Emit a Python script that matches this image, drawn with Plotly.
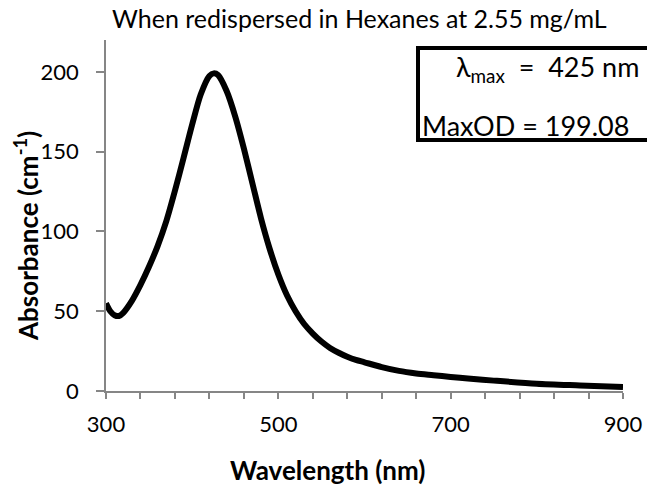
import plotly.graph_objects as go

wavelength_nm = [300, 305, 310, 315, 320, 330, 340, 350, 360, 370, 380, 390, 400, 410, 420, 425,
                 430, 440, 450, 460, 470, 480, 490, 500, 510, 520, 530, 540, 550, 560, 570, 580,
                 590, 600, 620, 640, 660, 680, 700, 720, 750, 800, 850, 900]
absorbance = [55, 50, 47.5, 47, 49, 56.5, 66.5, 78, 91, 106.5, 125.5, 146, 167, 186, 197.5, 199.08,
              198, 188, 172, 152, 130, 108, 89, 73, 60, 50, 42, 36, 31, 27, 24, 21.5,
              19.5, 18, 15, 12.6, 11, 9.9, 8.8, 7.8, 6.5, 4.6, 3.5, 2.5]

x_ticks = [300, 500, 700, 900]
y_ticks = [0, 50, 100, 150, 200]

title_text = "When redispersed in Hexanes at 2.55 mg/mL"
x_title = "Wavelength (nm)"
y_title = "Absorbance (cm<sup>-1</sup>)"
lambda_text = "λ<sub>max</sub>  =  425 nm"
maxod_text = "MaxOD = 199.08"

FONT = "Lato"
AXIS_GREY = "#868686"

fig = go.Figure()
fig.add_trace(go.Scatter(x=wavelength_nm, y=absorbance, mode="lines",
                         line=dict(color="black", width=6, shape="spline", smoothing=0.8),
                         hoverinfo="skip", showlegend=False))

fig.update_layout(
    width=647, height=487,
    margin=dict(l=106, r=24, t=40, b=96, autoexpand=False),
    paper_bgcolor="white", plot_bgcolor="white",
    font=dict(family=FONT, size=22, color="black"),
    showlegend=False,
)
fig.update_xaxes(range=[300, 900], tickvals=x_ticks, ticktext=[str(v) for v in x_ticks],
                 automargin=False,
                 showgrid=False, zeroline=False, showline=True, linecolor=AXIS_GREY, linewidth=1.5,
                 ticks="outside", ticklen=6, tickwidth=1.5, tickcolor=AXIS_GREY,
                 ticklabelstandoff=7,
                 minor=dict(tickmode="linear", tick0=300, dtick=40, ticks="outside", ticklen=6,
                            tickwidth=1.5, tickcolor=AXIS_GREY, showgrid=False),
                 tickfont=dict(family=FONT, size=22))
fig.update_yaxes(range=[0, 220], tickvals=y_ticks, showgrid=False, zeroline=False,
                 automargin=False,
                 showline=True, linecolor=AXIS_GREY, linewidth=1.5,
                 ticks="outside", ticklen=8, tickwidth=1.5, tickcolor=AXIS_GREY,
                 ticklabelstandoff=13,
                 tickfont=dict(family=FONT, size=22))

def px_x(px):
    return (px - 106) / 517.0

def px_y(py):
    return (391 - py) / 351.0

fig.add_shape(type="rect", xref="paper", yref="paper",
              x0=px_x(418), x1=px_x(660), y0=px_y(140), y1=px_y(48),
              line=dict(color="black", width=4), fillcolor="white", layer="above")

anns = [
    dict(text=title_text, x=px_x(359), y=px_y(18), xanchor="center", yanchor="middle",
         font=dict(family=FONT, size=25)),
    dict(text="<b>" + x_title + "</b>", x=px_x(327), y=px_y(470), xanchor="center", yanchor="middle",
         font=dict(family=FONT, size=26)),
    dict(text="<b>" + y_title + "</b>", x=px_x(26), y=px_y(236), xanchor="center", yanchor="middle",
         textangle=-90, font=dict(family=FONT, size=26)),
    dict(text=lambda_text, x=px_x(641), y=px_y(68), xanchor="right", yanchor="middle",
         font=dict(family=FONT, size=27)),
    dict(text=maxod_text, x=px_x(420), y=px_y(125), xanchor="left", yanchor="middle",
         font=dict(family=FONT, size=27)),
]
for a in anns:
    fig.add_annotation(xref="paper", yref="paper", showarrow=False, **a)

fig.write_html("out.html", config={"displayModeBar": False},
               post_script="document.body.style.margin='0';")
